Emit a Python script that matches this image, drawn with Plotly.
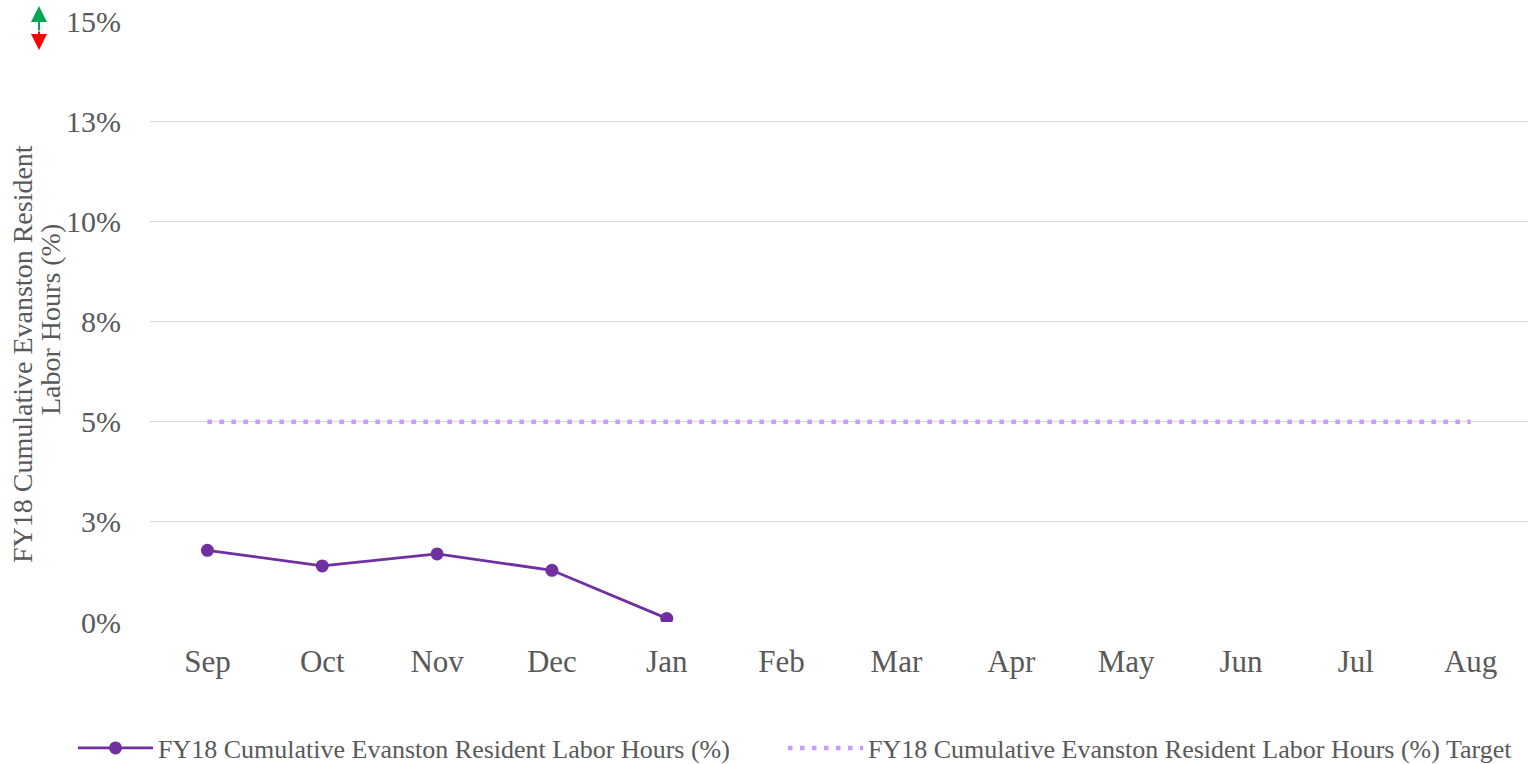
import plotly.graph_objects as go

months = ["Sep", "Oct", "Nov", "Dec", "Jan", "Feb", "Mar", "Apr", "May", "Jun", "Jul", "Aug"]
actual = [1.79, 1.40, 1.70, 1.29, 0.09]
target = [5, 5, 5, 5, 5, 5, 5, 5, 5, 5, 5, 5]
y_tickvals = [0, 2.5, 5, 7.5, 10, 12.5, 15]
y_ticktext = ["0%", "3%", "5%", "8%", "10%", "13%", "15%"]

name_actual = "FY18 Cumulative Evanston Resident Labor Hours (%)"
name_target = "FY18 Cumulative Evanston Resident Labor Hours (%) Target"
y_title_lines = ["FY18 Cumulative Evanston Resident", "Labor Hours (%)"]

FONT = "Liberation Serif"
GRAY = "#595959"

W, H = 1532, 764
L, R, T, B = 150, 4, 21, 142
pw, ph = W - L - R, H - T - B


def px(x):
    return (x - L) / pw


def py(y):
    return (H - B - y) / ph


fig = go.Figure()
fig.add_trace(go.Scatter(
    x=months[:len(actual)], y=actual, name=name_actual, mode="lines+markers",
    line=dict(color="#7030A0", width=2.8),
    marker=dict(color="#7030A0", size=13),
    legendwidth=620,
))
fig.add_trace(go.Scatter(
    x=months, y=target, name=name_target, mode="lines",
    line=dict(color="#CC99FF", width=4.5, dash="4.5px,7.5px"),
))

fig.update_layout(
    width=W, height=H,
    margin=dict(l=L, r=R, t=T, b=B, autoexpand=False),
    plot_bgcolor="white", paper_bgcolor="white",
    font=dict(family=FONT, color=GRAY),
    showlegend=True,
    legend=dict(
        orientation="h", x=px(73), xanchor="left", y=py(748), yanchor="middle",
        font=dict(size=26, family=FONT, color=GRAY), itemwidth=75,
    ),
    xaxis=dict(
        type="category", categoryorder="array", categoryarray=months,
        range=[-0.5, 11.5], showgrid=False, zeroline=False, showline=False,
        tickfont=dict(size=31, family=FONT, color=GRAY), ticklabelstandoff=18,
        automargin=False,
    ),
    yaxis=dict(
        range=[0, 15], tickvals=y_tickvals, ticktext=y_ticktext,
        showgrid=True, gridcolor="#D9D9D9", gridwidth=1.3, zeroline=False, showline=False,
        tickfont=dict(size=30, family=FONT, color=GRAY), ticklabelstandoff=28,
        automargin=False,
    ),
    annotations=[
        dict(xref="paper", yref="paper", x=px(23), y=py(354), text=y_title_lines[0],
             textangle=-90, showarrow=False, xanchor="center", yanchor="middle",
             font=dict(size=28, family=FONT, color=GRAY)),
        dict(xref="paper", yref="paper", x=px(50), y=py(320), text=y_title_lines[1],
             textangle=-90, showarrow=False, xanchor="center", yanchor="middle",
             font=dict(size=28, family=FONT, color=GRAY)),
        dict(xref="paper", yref="paper", x=px(39), y=py(6), ax=0, ay=26, text="",
             showarrow=True, arrowhead=2, arrowsize=1.6, arrowwidth=2, arrowcolor="#00A651"),
        dict(xref="paper", yref="paper", x=px(39), y=py(50), ax=0, ay=-20, text="",
             showarrow=True, arrowhead=2, arrowsize=1.6, arrowwidth=2, arrowcolor="#FF0000"),
    ],
)

fig.write_html("out.html", config={"displayModeBar": False},
               post_script="document.body.style.margin='0';")
